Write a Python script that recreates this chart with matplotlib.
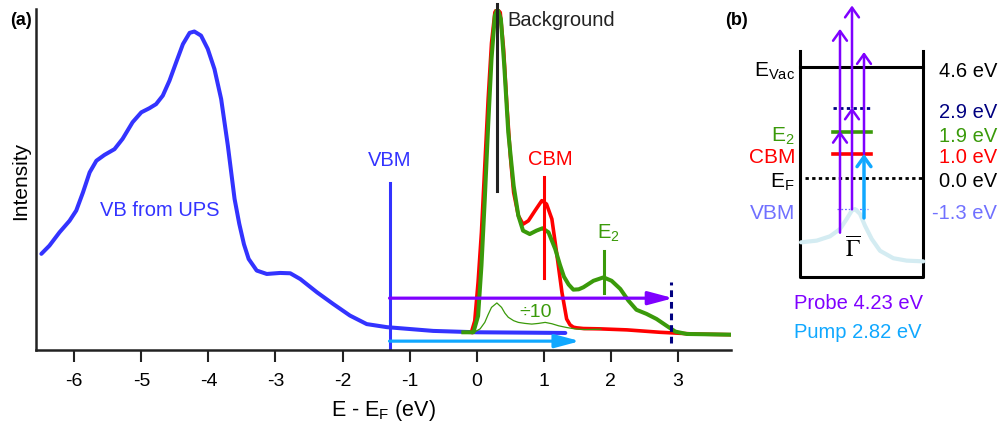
import matplotlib

matplotlib.use("Agg")
import matplotlib.pyplot as plt

plt.rcParams["font.family"] = ["Liberation Sans", "DejaVu Sans"]
plt.rcParams["axes.unicode_minus"] = False

# ---- panel (a) data: energy (eV) vs intensity (arb.) ----
ups_e = [-6.49, -6.37, -6.22, -6.07, -5.97, -5.87, -5.77, -5.67, -5.55, -5.40,
         -5.28, -5.13, -5.00, -4.88, -4.78, -4.68, -4.58, -4.48, -4.38, -4.28,
         -4.21, -4.11, -4.01, -3.91, -3.81, -3.71, -3.61, -3.54, -3.47, -3.40,
         -3.28, -3.13, -2.93, -2.78, -2.63, -2.38, -2.14, -1.89, -1.64, -1.34,
         -0.65, 0.0, 1.32]
ups_i = [0.282, 0.306, 0.345, 0.379, 0.409, 0.462, 0.521, 0.555, 0.572, 0.589,
         0.619, 0.668, 0.697, 0.709, 0.721, 0.746, 0.790, 0.844, 0.897, 0.930,
         0.934, 0.922, 0.883, 0.824, 0.736, 0.599, 0.443, 0.370, 0.310, 0.267,
         0.233, 0.223, 0.226, 0.225, 0.208, 0.169, 0.135, 0.101, 0.076, 0.067,
         0.056, 0.052, 0.050]

red_e = [-0.08, -0.03, 0.02, 0.07, 0.12, 0.17, 0.22, 0.27, 0.30, 0.35, 0.40,
         0.45, 0.50, 0.55, 0.62, 0.69, 0.77, 0.87, 0.97, 1.04, 1.12, 1.19,
         1.27, 1.34, 1.39, 1.44, 1.49, 1.59, 1.84, 2.24, 2.73, 3.23, 3.77]
red_i = [0.052, 0.085, 0.199, 0.345, 0.54, 0.736, 0.90, 0.99, 1.0, 0.99, 0.883,
         0.716, 0.570, 0.462, 0.394, 0.369, 0.379, 0.409, 0.438, 0.428, 0.384,
         0.286, 0.169, 0.091, 0.074, 0.067, 0.065, 0.063, 0.062, 0.059, 0.052,
         0.047, 0.045]

grn_e = [-0.20, -0.05, 0.02, 0.07, 0.12, 0.17, 0.22, 0.27, 0.31, 0.36, 0.41,
         0.47, 0.55, 0.62, 0.69, 0.79, 0.89, 0.98, 1.07, 1.17, 1.24, 1.30,
         1.37, 1.44, 1.52, 1.59, 1.74, 1.89, 2.01, 2.14, 2.26, 2.38, 2.53,
         2.68, 2.83, 2.96, 3.13, 3.77]
grn_i = [0.052, 0.052, 0.10, 0.247, 0.443, 0.658, 0.853, 0.98, 1.0, 0.97,
         0.834, 0.638, 0.482, 0.394, 0.350, 0.340, 0.350, 0.357, 0.345, 0.296,
         0.250, 0.215, 0.192, 0.177, 0.178, 0.184, 0.203, 0.213, 0.203, 0.179,
         0.145, 0.118, 0.106, 0.091, 0.071, 0.054, 0.047, 0.045]

div10_e = [-0.03, 0.05, 0.12, 0.17, 0.22, 0.30, 0.37, 0.42, 0.47, 0.55, 0.62,
           0.72, 0.82, 0.92, 1.02, 1.12, 1.22, 1.34, 1.46, 1.61, 1.85]
div10_i = [0.053, 0.062, 0.081, 0.104, 0.125, 0.138, 0.125, 0.108, 0.096,
           0.086, 0.081, 0.078, 0.076, 0.078, 0.081, 0.077, 0.071, 0.066,
           0.062, 0.060, 0.061]

vbm_e, cbm_e, e2_e, bg_e, probe_end, pump_end = -1.3, 1.0, 1.9, 0.3, 2.93, 1.54

# ---- panel (b) data: energy levels (eV) ----
lvl_left = [r"E$_\mathregular{Vac}$", "", r"E$_\mathregular{2}$", "CBM",
            r"E$_\mathregular{F}$", "VBM"]
lvl_right = ["4.6 eV", "2.9 eV", "1.9 eV", "1.0 eV", "0.0 eV", "-1.3 eV"]
lvl_e = [4.6, 2.9, 1.9, 1.0, 0.0, -1.3]
lvl_col = ["black", "#000080", "#3a9a0a", "#ff0000", "black", "#7070ff"]
band_x = [61, 76.7, 90, 100, 106.7, 111.7, 115, 120, 125, 131.7, 140, 153.3,
          166.7, 183.3]
band_e = [-2.67, -2.60, -2.42, -2.12, -1.70, -1.36, -1.29, -1.49, -1.98,
          -2.53, -3.02, -3.33, -3.43, -3.46]
probe = 4.23
pump_start, pump_stop = -1.66, 1.0
probe_starts = [-2.27, -1.3, 1.0]

C_BLUE, C_RED, C_GRN = "#3333ff", "#ff0000", "#3a9a0a"
C_PUR, C_CYAN, C_NAVY = "#7f00ff", "#10a8ff", "#000080"

fig = plt.figure(figsize=(10, 4.31), dpi=100)

# ================= panel (a) =================
ax = fig.add_axes([0.036, 0.1856, 0.695, 0.7912])
ax.set_xlim(-6.57, 3.79)
ax.set_ylim(0, 1.0)
ax.plot(ups_e, ups_i, color=C_BLUE, lw=2.9, solid_capstyle="round",
        solid_joinstyle="round")
ax.plot(red_e, red_i, color=C_RED, lw=2.6, solid_joinstyle="round")
ax.plot(grn_e, grn_i, color=C_GRN, lw=2.9, solid_joinstyle="round")
ax.plot(div10_e, div10_i, color=C_GRN, lw=0.9)

ax.plot([bg_e, bg_e], [0.466, 1.015], color="#222222", lw=2.2, clip_on=False)
ax.plot([cbm_e, cbm_e], [0.21, 0.508], color=C_RED, lw=2.2)
ax.plot([e2_e, e2_e], [0.167, 0.29], color=C_GRN, lw=2.2)
ax.plot([vbm_e, vbm_e], [0, 0.49], color=C_BLUE, lw=2.2)
ax.plot([2.9, 2.9], [0.02, 0.2], color=C_NAVY, lw=2.2, ls=(0, (2.2, 1.6)))

ax.annotate("", xy=(probe_end, 0.152), xytext=(vbm_e, 0.152),
            arrowprops=dict(arrowstyle="-|>,head_length=0.75,head_width=0.2",
                            color=C_PUR, lw=2.3, mutation_scale=20,
                            shrinkA=0, shrinkB=0))
ax.annotate("", xy=(pump_end, 0.026), xytext=(vbm_e, 0.026),
            arrowprops=dict(arrowstyle="-|>,head_length=0.75,head_width=0.2",
                            color=C_CYAN, lw=2.3, mutation_scale=20,
                            shrinkA=0, shrinkB=0))

ax.text(-4.73, 0.413, "VB from UPS", color=C_BLUE, fontsize=14.5,
        ha="center", va="center")
ax.text(vbm_e, 0.56, "VBM", color=C_BLUE, fontsize=14.5, ha="center", va="center")
ax.text(1.1, 0.563, "CBM", color=C_RED, fontsize=14.5, ha="center", va="center")
ax.text(1.96, 0.345, r"E$_\mathregular{2}$", color=C_GRN, fontsize=14.5,
        ha="center", va="center")
ax.text(0.88, 0.112, "÷10", color=C_GRN, fontsize=14, ha="center", va="center")
ax.text(0.46, 0.97, "Background", color="#222222", fontsize=14.5,
        ha="left", va="center")

for s in ["top", "right"]:
    ax.spines[s].set_visible(False)
for s in ["left", "bottom"]:
    ax.spines[s].set_linewidth(1.8)
    ax.spines[s].set_color("#222222")
ax.set_yticks([])
ax.set_xticks([-6, -5, -4, -3, -2, -1, 0, 1, 2, 3])
ax.tick_params(axis="x", direction="out", length=8.5, width=1.5,
               labelsize=14, pad=7, color="#222222")
ax.set_ylabel("Intensity", fontsize=15, labelpad=4)
ax.set_xlabel(r"E - E$_\mathregular{F}$ (eV)", fontsize=15.5, labelpad=6)
fig.text(0.021, 0.953, "(a)", fontsize=13, fontweight="bold", ha="center",
         va="center")

# ================= panel (b) =================
bx = fig.add_axes([0.74, 0, 0.26, 1])
bx.set_xlim(0, 260)
bx.set_ylim(-10.46, 7.43)
bx.axis("off")

# box
bx.plot([60, 60, 183, 183], [5.27, -4.11, -4.11, 5.27], color="black", lw=2.2)
bx.plot([60, 183], [lvl_e[0]] * 2, color="black", lw=2.2)
bx.plot([93, 131], [lvl_e[1]] * 2, color=lvl_col[1], lw=2, ls=(0, (1.2, 1.2)))
bx.plot([93, 131], [lvl_e[2]] * 2, color=lvl_col[2], lw=2.6)
bx.plot([93, 131], [lvl_e[3]] * 2, color=lvl_col[3], lw=2.6)
bx.plot([65, 182], [lvl_e[4]] * 2, color=lvl_col[4], lw=2, ls=(0, (1.2, 1.2)))
bx.plot([97, 128], [lvl_e[5]] * 2, color=lvl_col[5], lw=0.9, ls=(0, (1.5, 1.5)))

# band dispersion
bx.plot(band_x, band_e, color="#d4ecf2", lw=3, solid_joinstyle="round",
        solid_capstyle="round")
bx.text(113, -2.95, r"$\overline{\Gamma}$", math_fontfamily="stix",
        fontsize=17, ha="center", va="center", color="black")

# transitions
head = "->,head_length=0.35,head_width=0.25"
for xa, e0 in zip([100, 112, 124], probe_starts):
    mid = e0 + probe
    if e0 < 0.5:
        bx.annotate("", xy=(xa, mid), xytext=(xa, e0),
                    arrowprops=dict(arrowstyle=head, color=C_PUR, lw=1.8,
                                    mutation_scale=20, shrinkA=0, shrinkB=0))
        bx.annotate("", xy=(xa, mid + probe), xytext=(xa, mid),
                    arrowprops=dict(arrowstyle=head, color=C_PUR, lw=1.8,
                                    mutation_scale=20, shrinkA=0, shrinkB=0))
    else:
        bx.annotate("", xy=(xa, mid), xytext=(xa, e0),
                    arrowprops=dict(arrowstyle=head, color=C_PUR, lw=1.8,
                                    mutation_scale=20, shrinkA=0, shrinkB=0))
bx.annotate("", xy=(124, pump_stop), xytext=(124, pump_start),
            arrowprops=dict(arrowstyle=head, color=C_CYAN, lw=2.5,
                            mutation_scale=20, shrinkA=0, shrinkB=0))

for lab, rlab, e, c in zip(lvl_left, lvl_right, lvl_e, lvl_col):
    if lab:
        bx.text(55, e - 0.12, lab, color=c, fontsize=15, ha="right", va="center")
    bx.text(257, e - 0.12, rlab, color=c, fontsize=14.5, ha="right", va="center")

bx.text(118, -5.15, "Probe 4.23 eV", color=C_PUR, fontsize=14.5,
        ha="center", va="center")
bx.text(118, -6.39, "Pump 2.82 eV", color=C_CYAN, fontsize=14.5,
        ha="center", va="center")
fig.text(0.737, 0.953, "(b)", fontsize=13, fontweight="bold", ha="center",
         va="center")

fig.savefig("out.png", dpi=100)
